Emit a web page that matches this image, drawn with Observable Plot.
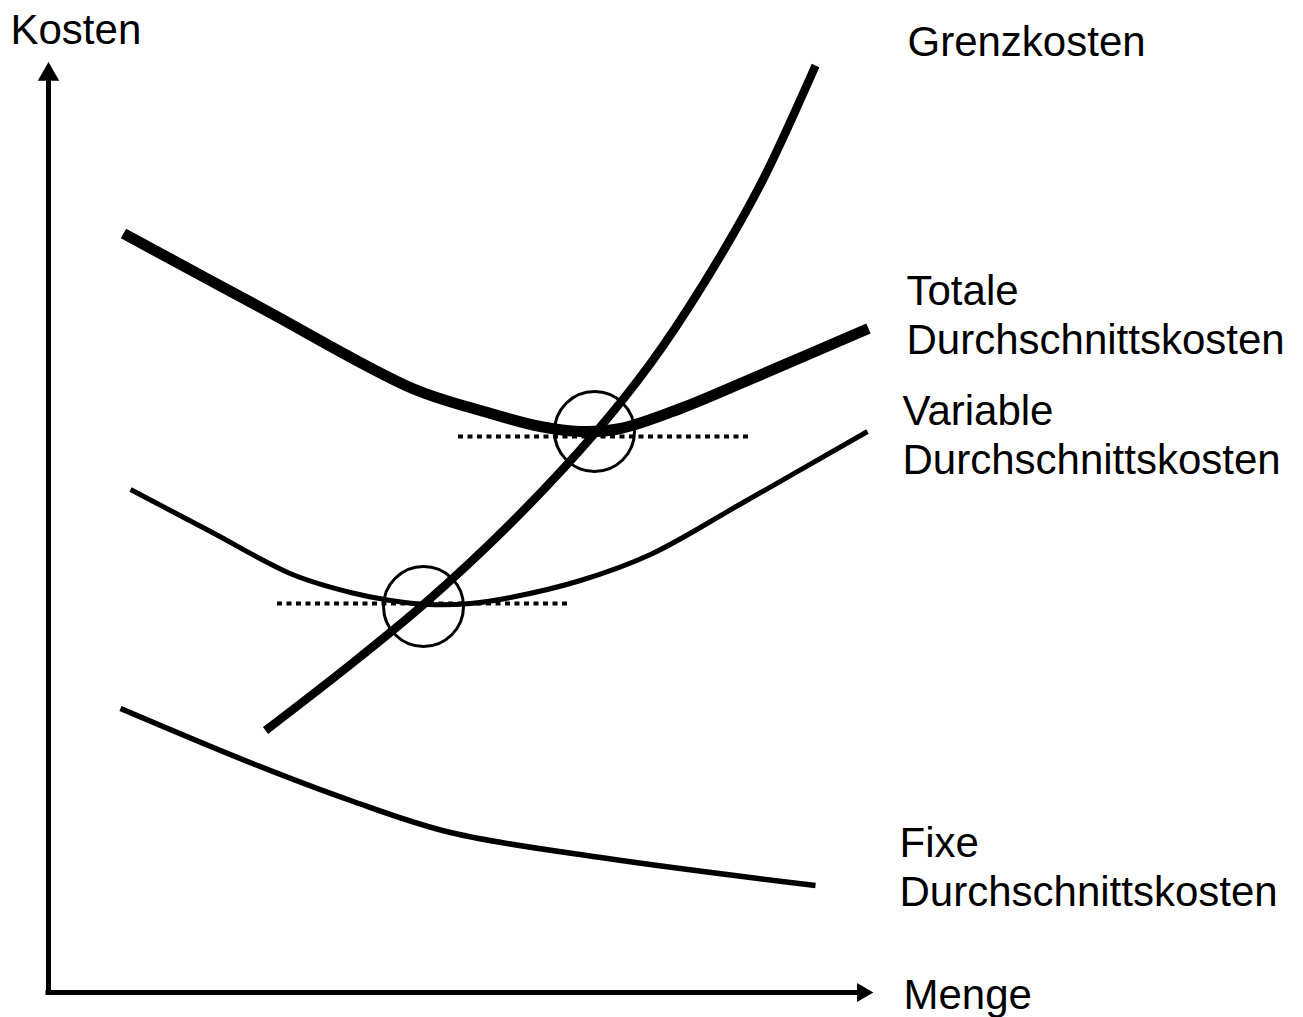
<!DOCTYPE html>
<html>
<head>
<meta charset="utf-8">
<script src="https://cdn.jsdelivr.net/npm/d3@7"></script>
<script src="https://cdn.jsdelivr.net/npm/@observablehq/plot@0.6"></script>
<style>
  html, body { margin: 0; padding: 0; background: #fff; }
  svg { display: block; }
</style>
</head>
<body>
<script>
// Values: [Menge, Kosten] (schematic units)
const grenzkosten = [
  [217, 262], [297, 324], [375, 388], [462, 469], [547, 560],
  [602, 629], [654, 707], [712, 808], [767, 927]
];
const totaleDK = [
  [75, 759], [212, 685], [364, 604], [432, 582], [492, 566], [532, 561],
  [572, 564], [632, 584], [699, 612], [820, 664]
];
const variableDK = [
  [82, 503], [162, 461], [244, 418], [302, 400], [342, 392], [380, 388],
  [422, 389], [462, 395], [532, 412], [602, 438], [693, 489], [819, 561]
];
const fixeDK = [
  [72, 284], [204, 229], [302, 192], [402, 160], [559, 134], [767, 107]
];
// Minimum markers: horizontal tangents and circles
const tangents = [
  {x1: 410, x2: 700, k: 556},
  {x1: 229, x2: 519, k: 389}
];
const minima = [[546, 561], [375, 386]];
// Axis extents
const axisMengeEnd = 812;
const axisKostenEnd = 912;
// Labels
const labels = [
  {m: -38, k: 949, text: "Kosten"},
  {m: 859, k: 937, text: "Grenzkosten"},
  {m: 858, k: 639, text: "Totale\nDurchschnittskosten"},
  {m: 854, k: 519, text: "Variable\nDurchschnittskosten"},
  {m: 851, k: 87, text: "Fixe\nDurchschnittskosten"},
  {m: 855, k: -16, text: "Menge"}
];
const arrowHeads = [
  {m: 0, k: 918, rot: 0, r: 8},
  {m: 814, k: 0, rot: 90, r: 7}
];

const lineOpts = {x: d => d[0], y: d => d[1], curve: "catmull-rom", stroke: "#000", strokeLinecap: "butt", strokeLinejoin: "round"};

const chart = Plot.plot({
  width: 1303,
  height: 1017,
  margin: 0,
  x: {domain: [-48, 1255], axis: null},
  y: {domain: [-25, 992], axis: null},
  r: {type: "identity"},
  style: {fontFamily: "'Liberation Sans', Arial, sans-serif", background: "#fff", color: "#000"},
  marks: [
    // axes
    Plot.ruleX([0], {y1: 0, y2: axisKostenEnd, stroke: "#000", strokeWidth: 5, strokeLinecap: "square"}),
    Plot.ruleY([0], {x1: 0, x2: axisMengeEnd, stroke: "#000", strokeWidth: 5, strokeLinecap: "square"}),
    Plot.dot(arrowHeads, {x: "m", y: "k", rotate: "rot", symbol: "triangle", r: "r", fill: "#000", stroke: "none"}),
    // tangents
    Plot.ruleY(tangents, {x1: "x1", x2: "x2", y: "k", stroke: "#000", strokeWidth: 4, strokeDasharray: "5,4.5"}),
    // curves
    Plot.line(fixeDK, {...lineOpts, strokeWidth: 5.5}),
    Plot.line(variableDK, {...lineOpts, strokeWidth: 5}),
    Plot.line(totaleDK, {...lineOpts, strokeWidth: 11}),
    Plot.line(grenzkosten, {...lineOpts, strokeWidth: 8.5}),
    // circles at minima
    Plot.dot(minima, {x: d => d[0], y: d => d[1], r: 40, stroke: "#000", strokeWidth: 3, fill: "none"}),
    // labels
    Plot.text(labels, {x: "m", y: "k", text: "text", textAnchor: "start", lineAnchor: "bottom", lineHeight: 1.15, fontSize: 42, fill: "#000"})
  ]
});
document.body.appendChild(chart);
</script>
</body>
</html>
